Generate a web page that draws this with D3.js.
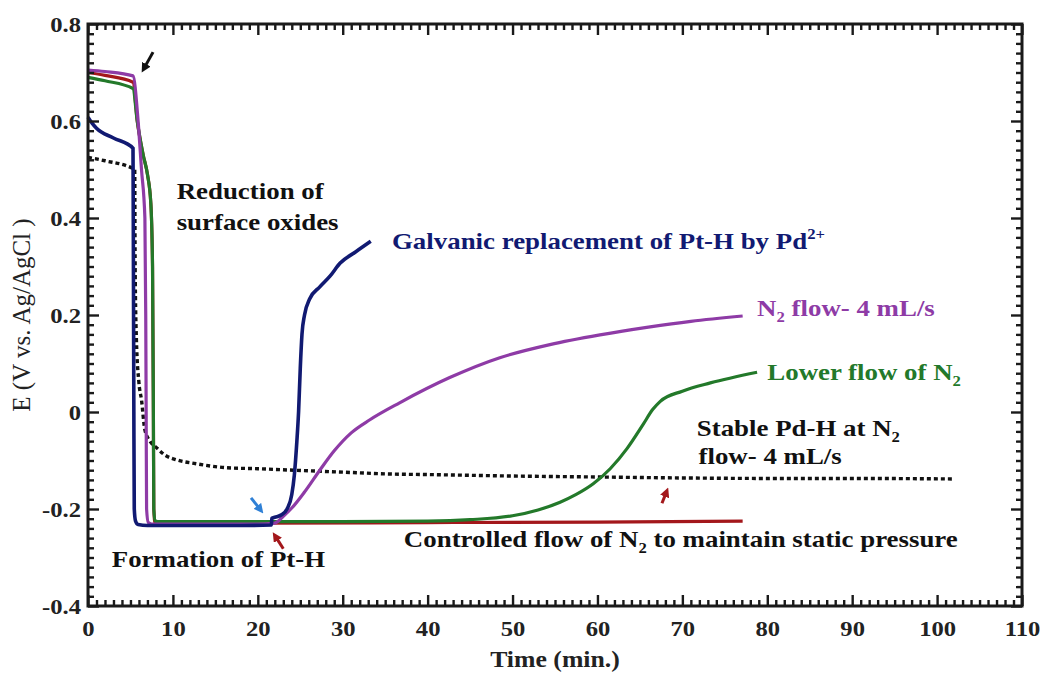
<!DOCTYPE html>
<html>
<head>
<meta charset="utf-8">
<script src="https://cdn.jsdelivr.net/npm/d3@7"></script>
<style>
  html, body { margin: 0; padding: 0; background: #fff; }
  svg { display: block; }
  text { font-family: "Liberation Serif", "Times New Roman", serif; }
</style>
</head>
<body>
<svg id="chart" width="1043" height="673"></svg>
<script>
// Potential transients, E (V vs. Ag/AgCl) against time (min.)

// Galvanic replacement of Pt-H by Pd2+ (navy)
const galvanicT = [0, 0.5, 1.0, 3, 5.3, 5.35, 5.4, 5.45, 5.6, 5.9, 7, 12, 18, 21.6, 21.65, 22, 22.8, 23.5, 24.0, 24.3, 24.6, 24.8, 25.0, 25.2, 25.5, 26.1, 27.3, 28.5, 29.7, 31.5, 33.3];
const galvanicE = [0.608, 0.595, 0.585, 0.565, 0.544, 0.30, 0.0, -0.20, -0.225, -0.232, -0.234, -0.234, -0.234, -0.233, -0.219, -0.217, -0.212, -0.198, -0.17, -0.13, -0.06, 0.0, 0.09, 0.16, 0.20, 0.233, 0.258, 0.28, 0.307, 0.33, 0.352];

// N2 flow 4 mL/s (purple)
const flowT = [0, 2, 5.3, 5.9, 6.3, 6.7, 6.8, 6.85, 6.9, 7.1, 7.5, 12, 20, 22, 23, 24, 25.5, 27.3, 29, 31, 33.2, 36.7, 42.6, 48.5, 54.4, 60.3, 66, 71, 77.1];
const flowE = [0.705, 0.702, 0.693, 0.60, 0.50, 0.40, 0.20, 0.0, -0.20, -0.228, -0.231, -0.231, -0.231, -0.229, -0.215, -0.198, -0.165, -0.12, -0.08, -0.043, -0.016, 0.019, 0.071, 0.112, 0.139, 0.159, 0.175, 0.187, 0.198];

// Lower flow of N2 (green)
const lowFlowT = [0, 2, 5.3, 5.8, 6.5, 7.0, 7.4, 7.6, 7.7, 7.75, 7.9, 8.2, 20, 30, 40, 45, 50, 53, 55.6, 57.5, 59.5, 61.5, 63.5, 65.4, 66.5, 67.4, 70, 73.3, 78.8];
const lowFlowE = [0.69, 0.683, 0.667, 0.60, 0.53, 0.49, 0.43, 0.30, 0.0, -0.20, -0.224, -0.226, -0.226, -0.226, -0.225, -0.222, -0.214, -0.202, -0.186, -0.17, -0.148, -0.117, -0.075, -0.025, 0.005, 0.022, 0.043, 0.06, 0.082];

// Controlled flow of N2 to maintain static pressure (dark red)
const staticT = [0, 2, 5.3, 5.8, 6.5, 7.0, 7.4, 7.6, 7.7, 7.75, 7.9, 20, 40, 60, 77.1];
const staticE = [0.70, 0.694, 0.68, 0.60, 0.53, 0.49, 0.43, 0.30, 0.0, -0.20, -0.229, -0.229, -0.228, -0.227, -0.225];

// Stable Pd-H at N2 flow 4 mL/s (black dotted)
const stableT = [0, 2, 5.5, 5.55, 5.7, 6.0, 6.3, 6.7, 7.3, 8.1, 9, 10.5, 12.5, 16.4, 20, 24.2, 30, 35.9, 40, 50, 60, 70, 80, 90, 101.8];
const stableE = [0.525, 0.518, 0.50, 0.30, 0.15, 0.06, 0.025, -0.037, -0.06, -0.074, -0.088, -0.099, -0.106, -0.115, -0.117, -0.12, -0.124, -0.128, -0.129, -0.132, -0.134, -0.136, -0.137, -0.137, -0.138];

// Axis ticks
const xTicks = [0, 10, 20, 30, 40, 50, 60, 70, 80, 90, 100, 110];
const yTicks = [-0.4, -0.2, 0, 0.2, 0.4, 0.6, 0.8];
const yTickLabels = ["-0.4", "-0.2", "0", "0.2", "0.4", "0.6", "0.8"];

// Annotation arrows: [tail t, tail E, head t, head E]
const arrowBlack = [7.66, 0.742, 6.36, 0.701];
const arrowBlue = [19.2, -0.177, 20.6, -0.208];
const arrowRedA = [23.0, -0.282, 21.8, -0.249];
const arrowRedB = [67.6, -0.188, 68.3, -0.157];

const colors = {
  galvanic: "#111a72",
  flow: "#8e3ba6",
  lowFlow: "#23792a",
  stat: "#a3171b",
  stable: "#111111",
  blue: "#2f80d6"
};

const svg = d3.select("#chart");
const x = d3.scaleLinear().domain([0, 110]).range([88, 1022]);
const y = d3.scaleLinear().domain([-0.4, 0.8]).range([606, 24]);
const SX = 1.12; // horizontal text stretch

const zip = (ts, es) => ts.map((t, i) => [t, es[i]]);
const line = d3.line().x(d => x(d[0])).y(d => y(d[1])).curve(d3.curveMonotoneX);

const plot = svg.append("g");
plot.append("path").datum(zip(stableT, stableE))
  .attr("d", line).attr("fill", "none").attr("stroke", colors.stable)
  .attr("stroke-width", 3.4).attr("stroke-dasharray", "4,3");
plot.append("path").datum(zip(staticT, staticE))
  .attr("d", line).attr("fill", "none").attr("stroke", colors.stat).attr("stroke-width", 3.2);
plot.append("path").datum(zip(lowFlowT, lowFlowE))
  .attr("d", line).attr("fill", "none").attr("stroke", colors.lowFlow).attr("stroke-width", 3.2);
plot.append("path").datum(zip(flowT, flowE))
  .attr("d", line).attr("fill", "none").attr("stroke", colors.flow).attr("stroke-width", 3.2);
plot.append("path").datum(zip(galvanicT, galvanicE))
  .attr("d", line).attr("fill", "none").attr("stroke", colors.galvanic).attr("stroke-width", 3.6);

// Frame and ticks (inward on all four sides)
const minorX = d3.range(0, 111, 1).filter(v => v % 10 !== 0);
const minorY = d3.range(-20, 41, 1).filter(v => v % 10 !== 0).map(v => v * 0.02);

function axisStyle(g) {
  g.select(".domain").remove();
  g.selectAll("line").attr("stroke", "#1a1a1a").attr("stroke-width", 2.4);
}

svg.append("g").attr("transform", `translate(0,${y(-0.4)})`)
  .call(d3.axisBottom(x).tickValues(minorX).tickSize(-6).tickFormat(""))
  .call(axisStyle);
svg.append("g").attr("transform", `translate(0,${y(-0.4)})`)
  .call(d3.axisBottom(x).tickValues(xTicks).tickSize(-11).tickPadding(14).tickFormat(d3.format("d")))
  .call(axisStyle)
  .call(g => g.selectAll("text").attr("fill", "#222").attr("font-size", 22).attr("font-weight", "bold")
    .attr("transform", `scale(${SX},1)`));
svg.append("g").attr("transform", `translate(0,${y(0.8)})`)
  .call(d3.axisTop(x).tickValues(minorX).tickSize(-6).tickFormat(""))
  .call(axisStyle);
svg.append("g").attr("transform", `translate(0,${y(0.8)})`)
  .call(d3.axisTop(x).tickValues(xTicks).tickSize(-11).tickFormat(""))
  .call(axisStyle);

svg.append("g").attr("transform", `translate(${x(0)},0)`)
  .call(d3.axisLeft(y).tickValues(minorY).tickSize(-6).tickFormat(""))
  .call(axisStyle);
svg.append("g").attr("transform", `translate(${x(0)},0)`)
  .call(d3.axisLeft(y).tickValues(yTicks).tickSize(-11).tickPadding(7)
    .tickFormat((d, i) => yTickLabels[i]))
  .call(axisStyle)
  .call(g => g.selectAll("text").attr("fill", "#222").attr("font-size", 22).attr("font-weight", "bold")
    .attr("transform", `scale(${SX},1)`).attr("x", -7 / SX));
svg.append("g").attr("transform", `translate(${x(110)},0)`)
  .call(d3.axisRight(y).tickValues(minorY).tickSize(-6).tickFormat(""))
  .call(axisStyle);
svg.append("g").attr("transform", `translate(${x(110)},0)`)
  .call(d3.axisRight(y).tickValues(yTicks).tickSize(-11).tickFormat(""))
  .call(axisStyle);

svg.append("rect")
  .attr("x", x(0)).attr("y", y(0.8))
  .attr("width", x(110) - x(0)).attr("height", y(-0.4) - y(0.8))
  .attr("fill", "none").attr("stroke", "#1a1a1a").attr("stroke-width", 3);

// Axis titles
svg.append("text")
  .attr("transform", `translate(${x(55)},667) scale(${SX},1)`)
  .attr("text-anchor", "middle").attr("font-size", 23).attr("font-weight", "bold").attr("fill", "#222")
  .text("Time (min.)");
svg.append("text")
  .attr("transform", `translate(30,${y(0.2)}) rotate(-90)`)
  .attr("text-anchor", "middle").attr("font-size", 25).attr("fill", "#222")
  .text("E (V vs. Ag/AgCl )");

// Annotations
function label(t, e, parts, color, size) {
  const fs = size || 24;
  const tx = svg.append("text")
    .attr("transform", `translate(${x(t)},${y(e)}) scale(${SX},1)`)
    .attr("font-size", fs).attr("font-weight", "bold").attr("fill", color || "#111");
  parts.forEach(p => {
    const s = tx.append("tspan").text(p.s);
    if (p.sub) s.attr("font-size", fs * 0.62).attr("dy", 6);
    if (p.sup) s.attr("font-size", fs * 0.62).attr("dy", -10);
    if (p.after) s.attr("dy", p.after);
  });
  return tx;
}

label(10.44, 0.44, [{ s: "Reduction of" }]);
label(10.44, 0.376, [{ s: "surface oxides" }]);
label(35.8, 0.336, [{ s: "Galvanic replacement of Pt-H by Pd" }, { s: "2+", sup: true }], colors.galvanic);
label(78.8, 0.197, [{ s: "N" }, { s: "2", sub: true }, { s: " flow- 4 mL/s", after: -6 }], colors.flow);
label(80.0, 0.066, [{ s: "Lower flow of N" }, { s: "2", sub: true }], colors.lowFlow);
label(71.7, -0.05, [{ s: "Stable Pd-H at N" }, { s: "2", sub: true }]);
label(71.9, -0.108, [{ s: "flow- 4 mL/s" }]);
label(37.2, -0.278, [{ s: "Controlled flow of N" }, { s: "2", sub: true }, { s: " to maintain static pressure", after: -6 }]);
label(2.8, -0.32, [{ s: "Formation of Pt-H" }]);

// Arrows
const defs = svg.append("defs");
function arrow(a, color, id) {
  defs.append("marker").attr("id", id)
    .attr("viewBox", "0 0 10 10").attr("refX", 2).attr("refY", 5)
    .attr("markerWidth", 3.2).attr("markerHeight", 3.2).attr("orient", "auto")
    .append("path").attr("d", "M0,0 L10,5 L0,10 z").attr("fill", color);
  const x1 = x(a[0]), y1 = y(a[1]), x2 = x(a[2]), y2 = y(a[3]);
  const len = Math.hypot(x2 - x1, y2 - y1), k = (len - 7) / len;
  svg.append("line")
    .attr("x1", x1).attr("y1", y1)
    .attr("x2", x1 + (x2 - x1) * k).attr("y2", y1 + (y2 - y1) * k)
    .attr("stroke", color).attr("stroke-width", 3)
    .attr("marker-end", `url(#${id})`);
}
arrow(arrowBlack, "#111", "ah-black");
arrow(arrowBlue, colors.blue, "ah-blue");
arrow(arrowRedA, colors.stat, "ah-red-a");
arrow(arrowRedB, colors.stat, "ah-red-b");
</script>
</body>
</html>
